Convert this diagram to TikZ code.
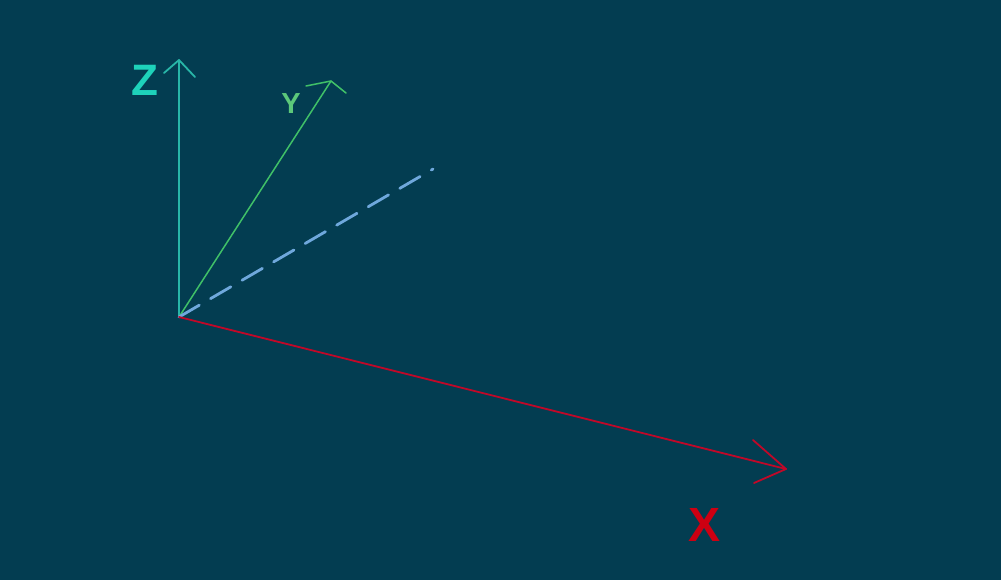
\documentclass[tikz,border=0pt]{standalone}
\usepackage{fontspec}
\setmainfont{Liberation Sans}
\usetikzlibrary{calc}
\definecolor{bg}{RGB}{3,61,81}
\definecolor{zline}{RGB}{40,182,168}
\definecolor{ztext}{RGB}{30,210,186}
\definecolor{yline}{RGB}{64,192,104}
\definecolor{ytext}{RGB}{92,200,122}
\definecolor{dline}{RGB}{111,168,220}
\definecolor{xline}{RGB}{192,8,40}
\definecolor{xtext}{RGB}{205,0,18}
\tikzset{
  axis/.style={line width=1.8pt, line cap=round, line join=round},
  lbl/.style={inner sep=0pt, font=\bfseries},
}
\begin{document}
\begin{tikzpicture}[x=1pt,y=-1pt]
\fill[bg] (0,0) rectangle (1001,580);
\useasboundingbox (0,0) rectangle (1001,580);
\coordinate (o) at (179,317);
\coordinate (zt) at (179,60);
\coordinate (yt) at (331,81);
\coordinate (dt) at (433,169);
\coordinate (xt) at (786,469);
% Z axis
\draw[axis, zline] (o) -- (zt);
\draw[axis, zline] ($(zt)+(-15,13)$) -- (zt) -- ($(zt)+(16,17)$);
% Y axis
\draw[axis, yline, line width=1.5pt] (o) -- (yt);
\draw[axis, yline, line width=1.5pt] ($(yt)+(-25,5)$) -- (yt) -- ($(yt)+(15,12)$);
% dashed
\draw[dline, line width=2.8pt, line cap=round, dash pattern=on 23.5pt off 13pt] (o) -- (dt);
% X axis
\draw[axis, xline] (o) -- (xt);
\draw[axis, xline] ($(xt)+(-33,-29)$) -- (xt) -- ($(xt)+(-32,14)$);
% labels
\node[lbl, ztext, font=\fontsize{44}{44}\selectfont\bfseries] (zl) at (145,80) {Z};
\node[lbl, ytext, font=\fontsize{29}{29}\selectfont\bfseries] (yl) at (291,103.5) {Y};
\node[lbl, xtext, font=\fontsize{48}{48}\selectfont\bfseries] (xl) at (704,524.5) {X};
\end{tikzpicture}
\end{document}
